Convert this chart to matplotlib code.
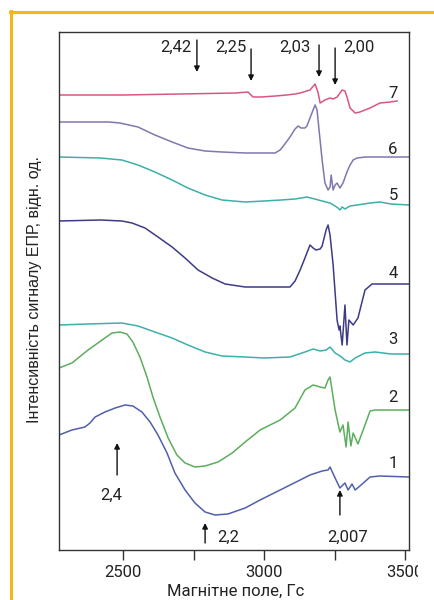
import matplotlib
matplotlib.use('Agg')
import matplotlib.pyplot as plt
from matplotlib.lines import Line2D
from matplotlib.transforms import Bbox, TransformedBbox

plt.rcParams['font.family'] = ['Roboto', 'DejaVu Sans']

# EPR spectra, field in Gs, intensity in arbitrary units
field7 = [2273, 2500, 2700, 2900, 2943, 2961, 2990, 3040, 3080, 3110, 3128, 3163,
          3181, 3191, 3199, 3216, 3234, 3245, 3259, 3277, 3287, 3294, 3305, 3323,
          3340, 3376, 3411, 3447, 3472]
int7 = [455, 455, 456, 457, 458, 453, 453, 454, 455, 456, 457, 460,
        466, 458, 447, 450, 452, 451, 453, 460, 459, 453, 442, 437,
        438, 442, 447, 448, 449]

field6 = [2273, 2450, 2489, 2553, 2613, 2674, 2730, 2791, 2851, 2933, 3039, 3057,
          3074, 3092, 3110, 3121, 3131, 3145, 3152, 3167, 3181, 3188, 3195, 3206,
          3216, 3227, 3234, 3238, 3245, 3252, 3259, 3269, 3280, 3294, 3305, 3316,
          3330, 3360, 3514]
int6 = [428, 428, 427, 423, 415, 408, 402, 399, 398, 397, 397, 400,
        406, 413, 421, 424, 422, 422, 424, 435, 445, 440, 420, 390,
        367, 360, 363, 375, 360, 365, 367, 362, 367, 378, 385, 390,
        392, 393, 393]

field5 = [2273, 2420, 2496, 2553, 2613, 2674, 2730, 2791, 2851, 2933, 3000, 3060,
          3110, 3152, 3180, 3206, 3234, 3252, 3262, 3269, 3277, 3287, 3305, 3330,
          3376, 3411, 3450, 3514]
int5 = [393, 392, 390, 385, 378, 370, 362, 355, 350, 348, 349, 350,
        351, 353, 351, 349, 347, 344, 342, 340, 343, 341, 344, 345,
        347, 348, 346, 345]

field4 = [2273, 2420, 2496, 2532, 2578, 2624, 2674, 2720, 2766, 2816, 2862, 2933,
          3000, 3092, 3110, 3128, 3145, 3163, 3174, 3184, 3199, 3206, 3220, 3227,
          3234, 3245, 3259, 3266, 3269, 3277, 3287, 3294, 3301, 3316, 3333, 3358,
          3383, 3514]
int4 = [329, 330, 329, 327, 322, 313, 303, 292, 280, 272, 266, 263,
        263, 263, 269, 280, 292, 305, 302, 300, 301, 304, 320, 325,
        315, 285, 230, 220, 224, 205, 245, 205, 230, 225, 232, 260,
        266, 266]

field3 = [2273, 2376, 2496, 2553, 2613, 2674, 2730, 2791, 2851, 2933, 3000, 3092,
          3145, 3174, 3199, 3220, 3234, 3252, 3270, 3287, 3305, 3323, 3358, 3394,
          3450, 3514]
int3 = [225, 226, 227, 224, 218, 212, 205, 198, 194, 193, 192, 193,
        198, 201, 199, 200, 203, 197, 194, 190, 188, 192, 197, 198,
        196, 196]

field2 = [2273, 2319, 2376, 2426, 2461, 2489, 2514, 2535, 2560, 2585, 2606, 2631,
          2660, 2691, 2720, 2755, 2791, 2837, 2887, 2933, 2986, 3057, 3110, 3145,
          3174, 3199, 3216, 3227, 3234, 3241, 3252, 3269, 3280, 3291, 3298, 3308,
          3316, 3333, 3358, 3376, 3394, 3514]
int2 = [182, 187, 200, 210, 217, 218, 216, 208, 193, 173, 153, 133,
        112, 95, 87, 83, 84, 88, 97, 108, 120, 130, 142, 160,
        165, 163, 162, 170, 173, 160, 140, 118, 125, 103, 128, 104,
        117, 106, 125, 139, 140, 140]

field1 = [2273, 2319, 2365, 2383, 2401, 2436, 2472, 2507, 2535, 2567, 2596, 2624,
          2656, 2684, 2720, 2755, 2791, 2826, 2872, 2933, 2986, 3057, 3128, 3163,
          3206, 3227, 3234, 3252, 3269, 3287, 3298, 3312, 3323, 3340, 3376, 3411,
          3514]
int1 = [115, 120, 123, 127, 133, 138, 142, 145, 144, 138, 128, 115,
        97, 77, 60, 47, 38, 35, 36, 42, 50, 60, 70, 75,
        79, 80, 83, 72, 62, 67, 60, 66, 60, 64, 73, 74,
        73]

colors = {'7': '#d9577f', '6': '#7f78ad', '5': '#3cb0a8', '4': '#3d3b86',
          '3': '#3cb0aa', '2': '#5cae5e', '1': '#5160aa'}

# curve numbers next to the right edge
label_field = 3457
label_int = {'7': 457, '6': 400, '5': 355, '4': 276, '3': 210, '2': 153, '1': 87}

# g-factor marks: (text, arrow field, arrow tail, arrow head, text field)
top_marks = [('2,42', 2762, 510, 478, 2688),
             ('2,25', 2954, 501, 469, 2883),
             ('2,03', 3195, 505, 473, 3110),
             ('2,00', 3252, 502, 465, 3337)]
bottom_marks = [('2,4', 2479, 75, 107, 2457, 55),
                ('2,2', 2791, 7, 27, 2872, 13),
                ('2,007', 3269, 35, 60, 3298, 13)]

fig = plt.figure(figsize=(4.35, 6.0), dpi=100)
ax = fig.add_axes([59 / 435, 50 / 600, 350 / 435, 518 / 600])

series = [(field7, int7, '7'), (field6, int6, '6'), (field5, int5, '5'),
          (field4, int4, '4'), (field3, int3, '3'), (field2, int2, '2'),
          (field1, int1, '1')]
for f, y, name in series:
    ax.plot(f, y, color=colors[name], lw=1.1, solid_joinstyle='round')
    ax.text(label_field, label_int[name], name, fontsize=12, color='#222222',
            ha='center', va='center')

arrow = dict(arrowstyle='-|>', lw=1.0, color='#111111', mutation_scale=8,
             shrinkA=0, shrinkB=0)
for txt, fx, y0, y1, tx in top_marks:
    ax.annotate('', xy=(fx, y1), xytext=(fx, y0), arrowprops=arrow)
    ax.text(tx, 503, txt, fontsize=12, ha='center', va='center', color='#222222')
for txt, fx, y0, y1, tx, ty in bottom_marks:
    ax.annotate('', xy=(fx, y1), xytext=(fx, y0), arrowprops=arrow)
    ax.text(tx, ty, txt, fontsize=12, ha='center', va='center', color='#222222')

ax.set_xlim(2273, 3514)
ax.set_ylim(0, 518)
ax.set_xticks([2500, 3000, 3500])
ax.set_xticks([2750, 3250], minor=True)
ax.set_yticks([])
ax.tick_params(axis='x', which='both', direction='out', length=7, width=1,
               color='#333333', labelsize=12, pad=4, labelcolor='#222222')
for s in ax.spines.values():
    s.set_color('#333333')
    s.set_linewidth(1.0)

ax.set_xlabel('Магнітне поле, Гс', fontsize=12, color='#222222')
ax.xaxis.set_label_coords(0.506, -0.066)
ax.set_ylabel('Інтенсивність сигналу ЕПР, відн. од.', fontsize=11.5,
              color='#222222', family=['Liberation Sans', 'DejaVu Sans'])
ax.yaxis.set_label_coords(-0.049, 0.502)

# the 3500 label is cut by the page edge in the original
clip = TransformedBbox(Bbox([[0, 0], [418 / 435, 1]]), fig.transFigure)
for lab in ax.get_xticklabels():
    lab.set_clip_box(clip)
    lab.set_clip_on(True)

# yellow frame of the page
fig.add_artist(Line2D([11 / 435, 11 / 435], [0, 1 - 11 / 600], color='#f5b61c',
                      lw=2.2, transform=fig.transFigure))
fig.add_artist(Line2D([10 / 435, 1], [1 - 12 / 600, 1 - 12 / 600], color='#f5b61c',
                      lw=2.2, transform=fig.transFigure))

fig.savefig('out.png', dpi=100)
